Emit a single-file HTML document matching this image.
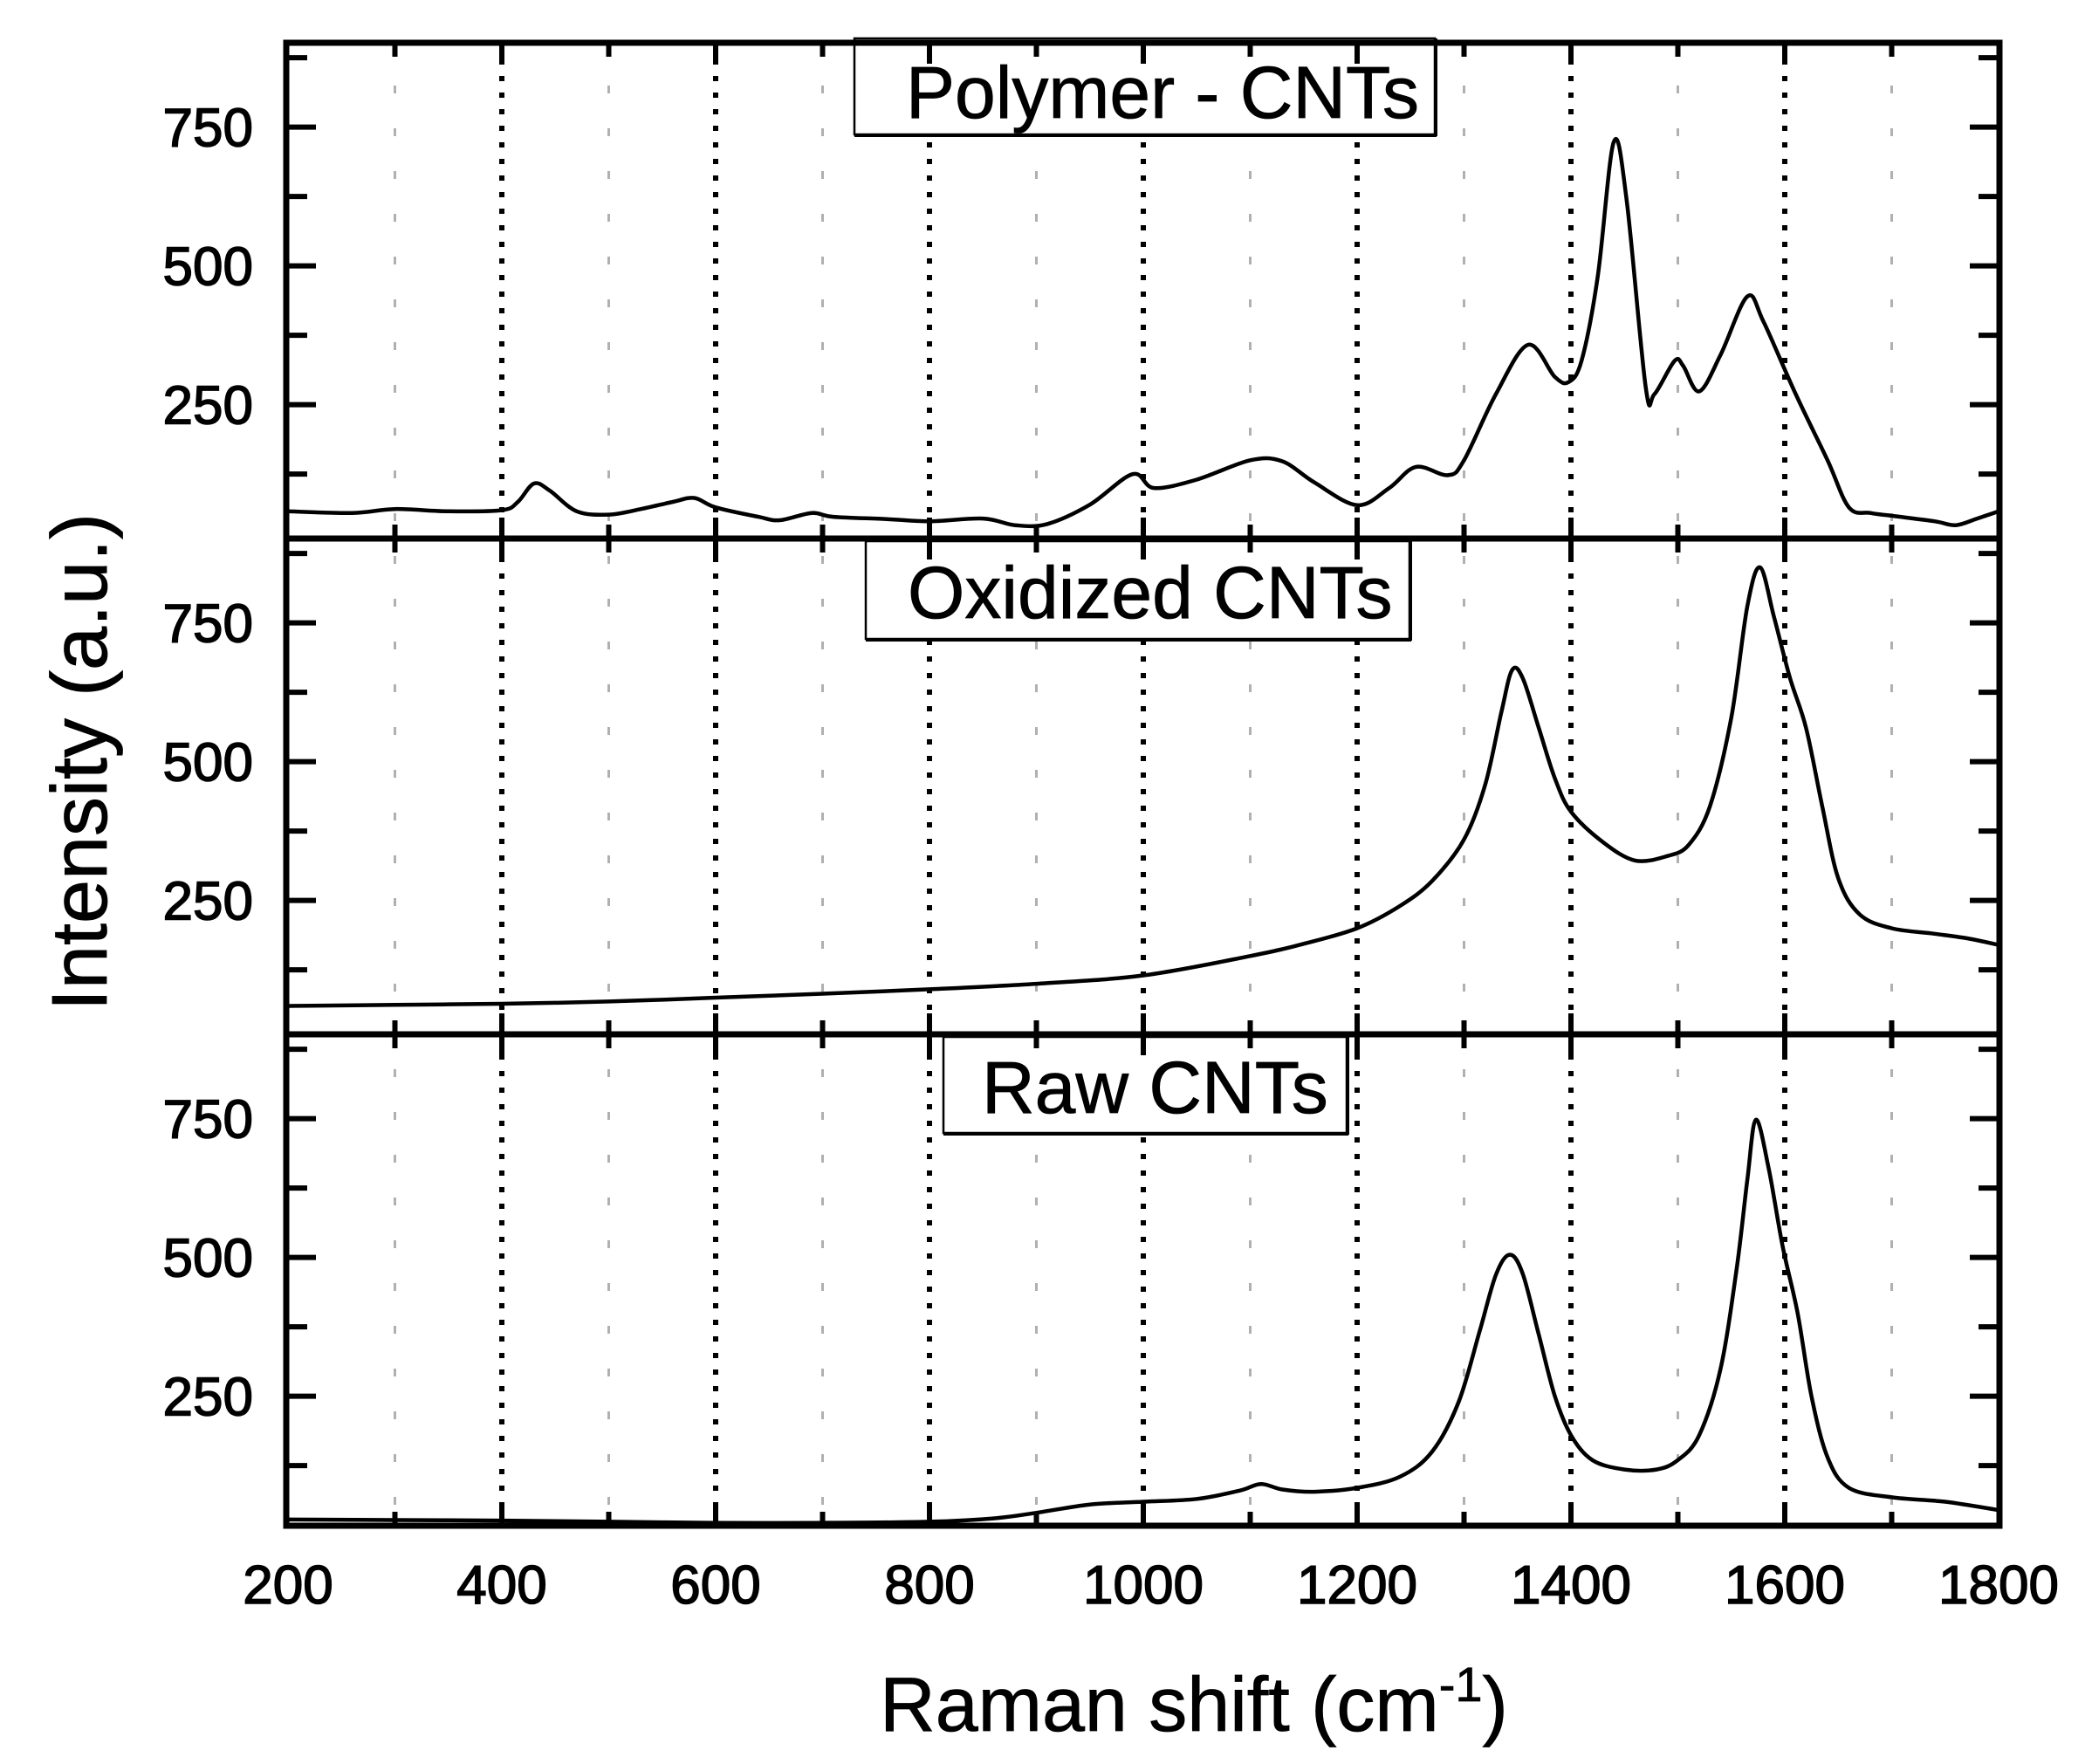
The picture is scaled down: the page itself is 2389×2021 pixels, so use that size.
<!DOCTYPE html>
<html><head><meta charset="utf-8">
<style>
html,body{margin:0;padding:0;background:#fff;}
svg{display:block;}
text{font-family:"Liberation Sans",Arial,sans-serif;fill:#000;}
</style></head>
<body>
<svg id="s" width="2389" height="2021" viewBox="0 0 2389 2021" xmlns="http://www.w3.org/2000/svg">
<rect width="2389" height="2021" fill="#fff"/>
<g id="grid"></g>
<g id="curves" fill="none" stroke="#000" stroke-width="4.5" stroke-linejoin="round"></g>
<g id="boxes"></g>
<g id="axes"></g>
<g id="labels" font-size="62" stroke="#000" stroke-width="1.5"></g>
<text x="1368" y="1983" font-size="88" text-anchor="middle" stroke="#000" stroke-width="0.8">Raman shift (cm<tspan dy="-34" font-size="56">-1</tspan><tspan dy="34">)</tspan></text>
<text transform="translate(122,873) rotate(-90)" font-size="90" text-anchor="middle" stroke="#000" stroke-width="0.8">Intensity (a.u.)</text>
</svg>
<script>
const NS="http://www.w3.org/2000/svg";
function el(p,t,a,txt){const e=document.createElementNS(NS,t);for(const k in a)e.setAttribute(k,a[k]);if(txt!==undefined)e.textContent=txt;document.getElementById(p).appendChild(e);return e;}
const L=328,R=2291;
const X=v=>330+(v-200)*1.225;
const tops=[49,617,1185], bots=[617,1185,1748];
const Y=(p,v)=>tops[p]+(902-v)*0.636;
for(let v=300;v<=1700;v+=100){
  const major=(v%200===0);
  el('grid','line',{x1:X(v),x2:X(v),y1:tops[0],y2:bots[2],stroke:major?'#000':'#b0b0b0','stroke-width':major?6:3,'stroke-dasharray':major?'6 13':'9 40'});
}
const data=[
[[200,58],[260,55],[300,62],[350,58],[400,60],[415,75],[430,108],[445,95],[470,58],[500,52],[530,62],[560,75],[580,82],[600,65],[640,48],[660,42],[690,55],[710,48],[760,44],[800,40],[850,45],[880,33],[910,35],[950,70],[990,125],[1010,100],[1050,115],[1100,150],[1130,148],[1160,110],[1200,69],[1230,100],[1255,138],[1285,123],[1300,150],[1330,270],[1360,358],[1385,300],[1398,291],[1410,330],[1425,480],[1440,723],[1452,620],[1470,280],[1478,269],[1497,329],[1505,320],[1520,274],[1540,340],[1565,445],[1580,400],[1610,270],[1640,150],[1660,65],[1680,55],[1700,50],[1740,40],[1760,33],[1780,45],[1800,58]],
[[200,60],[300,62],[400,64],[500,68],[600,75],[700,82],[800,90],[900,100],[1000,115],[1100,150],[1150,172],[1200,200],[1240,240],[1270,285],[1300,360],[1320,460],[1335,590],[1345,665],[1355,650],[1370,560],[1385,470],[1400,410],[1430,355],[1460,322],[1490,330],[1510,350],[1530,420],[1550,580],[1565,780],[1577,850],[1590,760],[1605,650],[1620,560],[1635,420],[1650,290],[1670,225],[1700,200],[1740,190],[1770,182],[1800,170]],
[[200,28],[300,27],[400,26],[500,24],[600,22],[700,22],[800,24],[860,30],[900,40],[950,55],[1000,60],[1050,65],[1090,80],[1110,92],[1130,82],[1160,78],[1200,85],[1240,105],[1270,150],[1295,240],[1315,370],[1330,470],[1343,505],[1355,470],[1370,360],[1385,250],[1400,180],[1420,135],[1450,118],[1480,118],[1500,135],[1520,180],[1540,300],[1555,480],[1565,640],[1573,748],[1585,660],[1598,520],[1612,400],[1625,250],[1640,140],[1660,85],[1700,68],[1750,60],[1800,45]]
];
data.forEach((pts,p)=>{
  const P=pts.map(([v,y])=>[X(v),Y(p,y)]);
  let d='M'+P[0][0].toFixed(1)+' '+P[0][1].toFixed(1);
  for(let i=0;i<P.length-1;i++){
    const p0=P[Math.max(0,i-1)],p1=P[i],p2=P[i+1],p3=P[Math.min(P.length-1,i+2)];
    const c1=[p1[0]+(p2[0]-p0[0])/6,p1[1]+(p2[1]-p0[1])/6];
    const c2=[p2[0]-(p3[0]-p1[0])/6,p2[1]-(p3[1]-p1[1])/6];
    d+=` C${c1[0].toFixed(1)} ${c1[1].toFixed(1)} ${c2[0].toFixed(1)} ${c2[1].toFixed(1)} ${p2[0].toFixed(1)} ${p2[1].toFixed(1)}`;
  }
  el('curves','path',{d});
});
const boxes=[[979,44,1644,154,1038,135,'Polymer - CNTs'],[992,620,1615,732,1040,708,'Oxidized CNTs'],[1081,1188,1543,1298,1125,1275,'Raw CNTs']];
boxes.forEach(b=>{
  el('boxes','rect',{x:b[0],y:b[1],width:b[2]-b[0],height:b[3]-b[1],fill:'#fff',stroke:'#000','stroke-width':2.5});
  el('boxes','line',{x1:b[0],x2:b[2]+2,y1:b[3]+1,y2:b[3]+1,stroke:'#000','stroke-width':4});
  el('boxes','line',{x1:b[2]+1,x2:b[2]+1,y1:b[1],y2:b[3]+2,stroke:'#000','stroke-width':4});
  el('boxes','text',{x:b[4],y:b[5],'font-size':84,stroke:'#000','stroke-width':0.8},b[6]);
});
for(let p=0;p<3;p++){
  el('axes','rect',{x:L,y:tops[p],width:R-L,height:bots[p]-tops[p],fill:'none',stroke:'#000','stroke-width':7});
  for(let v=300;v<=1700;v+=100){
    const len=(v%200===0)?24:16;
    el('axes','line',{x1:X(v),x2:X(v),y1:tops[p],y2:tops[p]+len,stroke:'#000','stroke-width':6});
    el('axes','line',{x1:X(v),x2:X(v),y1:bots[p],y2:bots[p]-len,stroke:'#000','stroke-width':6});
  }
  for(let v=125;v<=875;v+=125){
    const major=(v%250===0);
    const len=major?34:24;const y=Y(p,v);
    if(y<tops[p]+8)continue;
    el('axes','line',{x1:L,x2:L+len,y1:y,y2:y,stroke:'#000','stroke-width':6});
    el('axes','line',{x1:R,x2:R-len,y1:y,y2:y,stroke:'#000','stroke-width':6});
    if(major&&v<=750) el('labels','text',{x:290,y:y+22,'text-anchor':'end'},String(v));
  }
}
for(let v=200;v<=1800;v+=200){
  el('labels','text',{x:X(v),y:1837,'text-anchor':'middle'},String(v));
}
</script>
</body></html>
